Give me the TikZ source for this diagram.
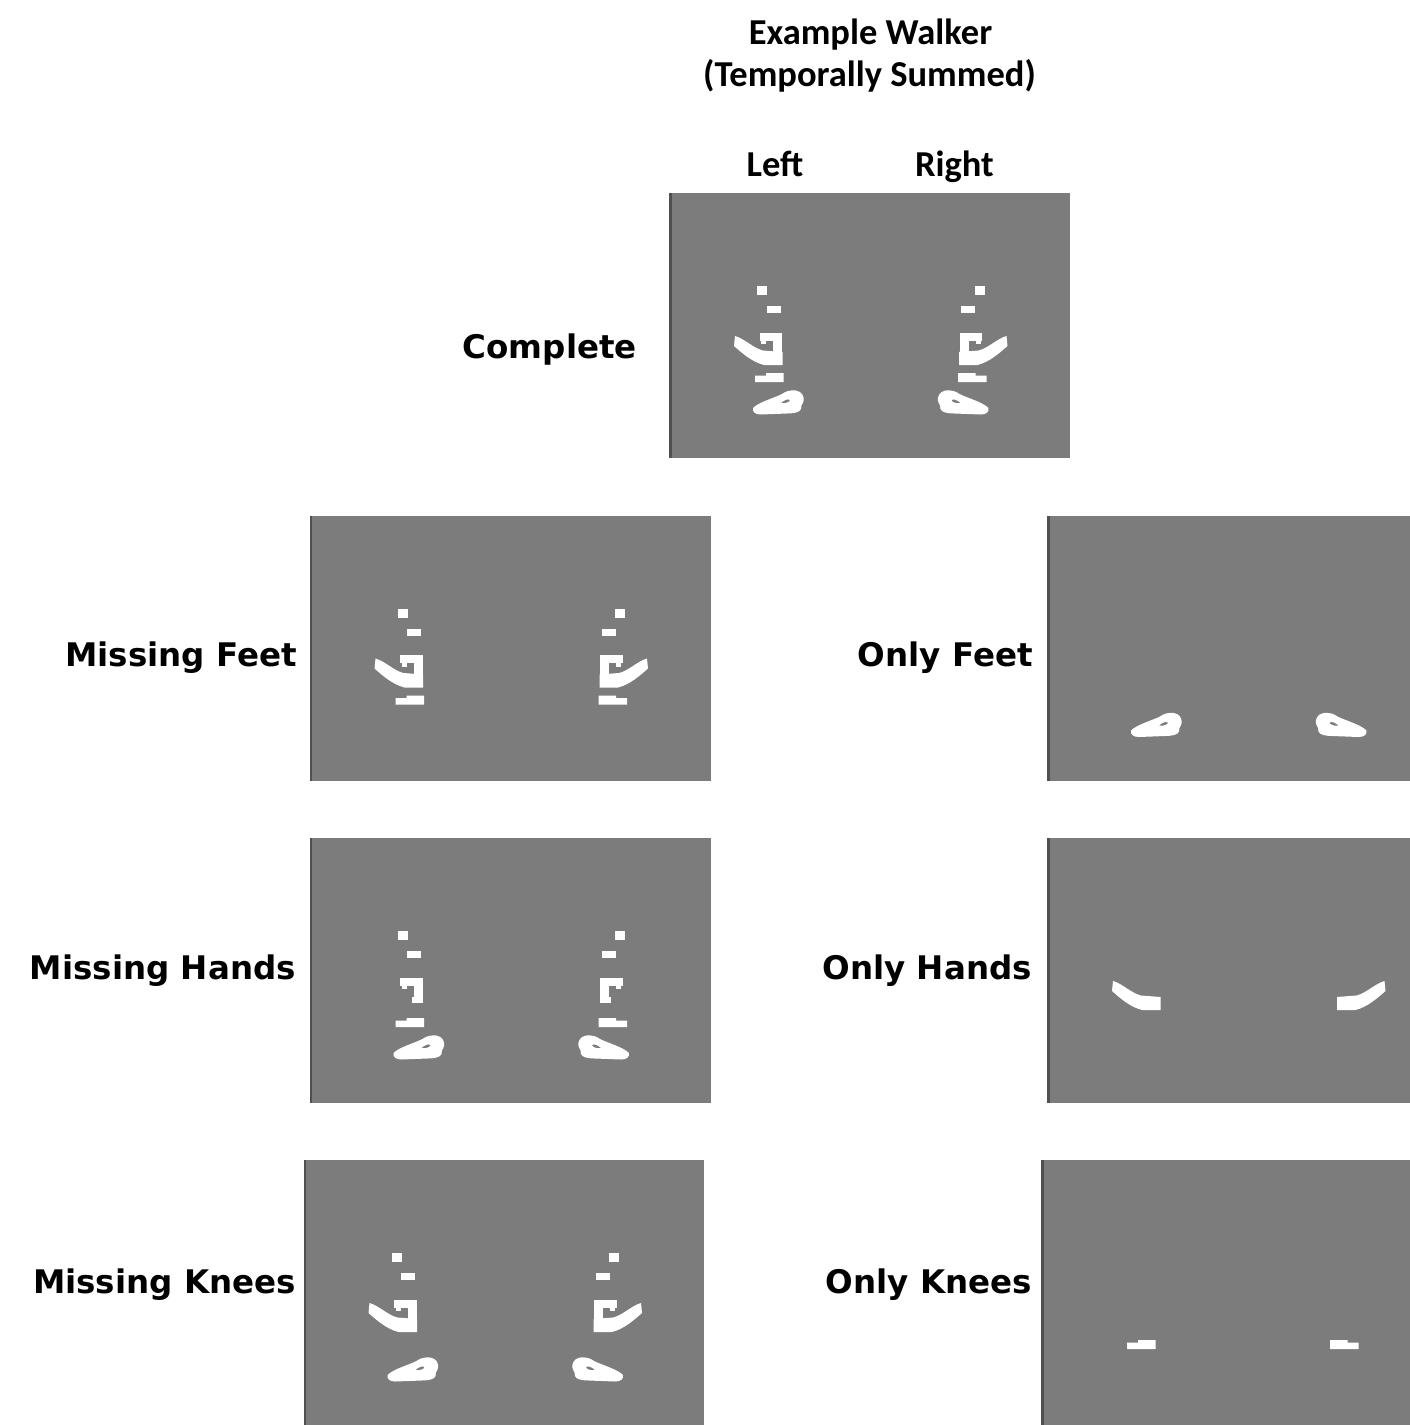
\documentclass[tikz,border=0pt]{standalone}
\usepackage{fontspec}
\newfontfamily\hdrfont{Carlito}
\newfontfamily\lblfont{DejaVu Sans}
\definecolor{panelgray}{RGB}{124,124,124}
\definecolor{edgegray}{RGB}{80,80,80}
\newcommand\wkHead{\fill[white] (88,93) rectangle (98,102);}
\newcommand\wkShoulder{\fill[white] (97.5,113) rectangle (111.5,120);}
\newcommand\wkHip{\fill[white] (90.5,139.5) rectangle (113,147.5);
  \fill[white] (104,147) rectangle (113,159);
  \fill[white] (92,147) rectangle (97,151);
  \fill[white] (102,158.5) rectangle (113,165);}
\newcommand\wkHand{\fill[white] (66,143) .. controls (76,146) and (84,155) .. (94,157.5)
  -- (113.5,159) -- (113.5,172) -- (95,172) .. controls (83,169) and (73,160) .. (65,153) -- cycle;}
\newcommand\wkKnee{\fill[white] (86,182.5) -- (97,182.5) -- (97,180) -- (114.5,180)
  -- (114.5,189) -- (86,189) -- cycle;}
\newcommand\wkFoot{\fill[white,even odd rule]
  (84,215) .. controls (90,209) and (105,205) .. (113,201)
  .. controls (117,198) and (121,197) .. (127,197.5)
  .. controls (133,198.5) and (135.5,204) .. (134.5,208)
  .. controls (133.5,212) and (131,213) .. (132,216)
  .. controls (131,219.5) and (124,220.5) .. (118,220.5) -- (92,221.5)
  .. controls (86,221.5) and (83.5,219) .. cycle
  (112,210) .. controls (115,207) and (119,205.5) .. (121,207)
  .. controls (121,209) and (116,211) .. cycle;}
\newcommand\panelbox[1]{\fill[panelgray] (0,0) rectangle (#1,265);
  \fill[edgegray] (0,0) rectangle (2.5,265);}
\begin{document}
\begin{tikzpicture}[x=1pt,y=-1pt,
  hdr/.style={font=\hdrfont\bfseries\fontsize{36.5}{42}\selectfont, inner sep=0, anchor=base},
  lbl/.style={font=\lblfont\bfseries\fontsize{32.5}{38}\selectfont, inner sep=0, anchor=base east}]
\fill[white] (0,0) rectangle (1410,1425);
\useasboundingbox (0,0) rectangle (1410,1425);
% headers
\node[hdr] (title1) at (870.5,44) {Example Walker};
\node[hdr] (title2) at (869.5,86) {(Temporally Summed)};
\node[hdr] (leftlbl) at (775,176.5) {Left};
\node[hdr] (rightlbl) at (954.5,176.5) {Right};
% row labels
\node[lbl] (complete) at (637,358) {Complete};
\node[lbl] (missfeet) at (297,666.5) {Missing Feet};
\node[lbl] (onlyfeet) at (1033,666.5) {Only Feet};
\node[lbl] (misshands) at (296,979.5) {Missing Hands};
\node[lbl] (onlyhands) at (1032,979.5) {Only Hands};
\node[lbl] (missknees) at (296,1293.5) {Missing Knees};
\node[lbl] (onlyknees) at (1032,1293.5) {Only Knees};
% Complete
\begin{scope}[shift={(669,193)}]
  \panelbox{401}
  \wkHead\wkShoulder\wkHip\wkHand\wkKnee\wkFoot
  \begin{scope}[shift={(403.5,0)},xscale=-1]
    \wkHead\wkShoulder\wkHip\wkHand\wkKnee\wkFoot
  \end{scope}
\end{scope}
% Missing Feet
\begin{scope}[shift={(309.5,515.5)}]
  \panelbox{401.5}
  \wkHead\wkShoulder\wkHip\wkHand\wkKnee
  \begin{scope}[shift={(403.5,0)},xscale=-1]
    \wkHead\wkShoulder\wkHip\wkHand\wkKnee
  \end{scope}
\end{scope}
% Only Feet
\begin{scope}[shift={(1047,515.5)}]
  \panelbox{363}
  \wkFoot
  \begin{scope}[shift={(403.5,0)},xscale=-1]
    \wkFoot
  \end{scope}
\end{scope}
% Missing Hands
\begin{scope}[shift={(309.5,838)}]
  \panelbox{401.5}
  \wkHead\wkShoulder\wkHip\wkKnee\wkFoot
  \begin{scope}[shift={(403.5,0)},xscale=-1]
    \wkHead\wkShoulder\wkHip\wkKnee\wkFoot
  \end{scope}
\end{scope}
% Only Hands
\begin{scope}[shift={(1047,838)}]
  \panelbox{363}
  \wkHand
  \begin{scope}[shift={(403.5,0)},xscale=-1]
    \wkHand
  \end{scope}
\end{scope}
% Missing Knees
\begin{scope}[shift={(303.5,1160)}]
  \panelbox{400.5}
  \wkHead\wkShoulder\wkHip\wkHand\wkFoot
  \begin{scope}[shift={(403.5,0)},xscale=-1]
    \wkHead\wkShoulder\wkHip\wkHand\wkFoot
  \end{scope}
\end{scope}
% Only Knees
\begin{scope}[shift={(1041,1160)}]
  \panelbox{369}
  \wkKnee
  \begin{scope}[shift={(403.5,0)},xscale=-1]
    \wkKnee
  \end{scope}
\end{scope}
\end{tikzpicture}
\end{document}
